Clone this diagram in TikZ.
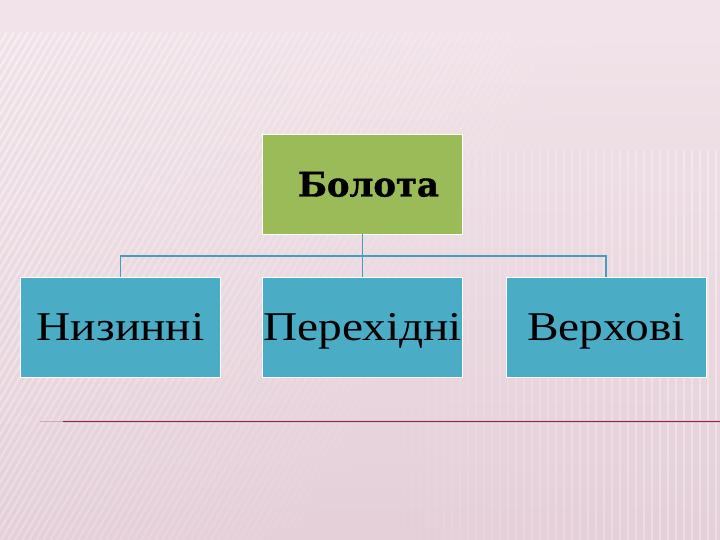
\documentclass[tikz,border=0pt]{standalone}
\usepackage{fontspec}
\setmainfont{Liberation Serif}[FakeStretch=1.16]
\newfontfamily\slab{DejaVu Serif}[FakeBold=1.2]
\begin{document}
\begin{tikzpicture}[x=1bp,y=-1bp,
  box/.style={draw=white, line width=0.6bp, inner sep=0pt, minimum width=200bp, minimum height=100bp, text=black, text depth=0pt},
  topbox/.style={box, fill=topgreen, text height=25bp, font=\slab\bfseries\fontsize{34}{40}\selectfont},
  subbox/.style={box, fill=subblue, text height=27.5bp, font=\fontsize{41}{46}\selectfont},
  link/.style={draw=linkblue, line width=1.6bp},
  stripe/.style={draw=white, line width=2.2bp}]
\definecolor{bgpink}{HTML}{F1E3E9}
\definecolor{bgdark}{HTML}{E2CBD5}
\definecolor{topgreen}{HTML}{9BBB59}
\definecolor{subblue}{HTML}{4BACC6}
\definecolor{linkblue}{HTML}{4A9BC0}
\definecolor{redline}{HTML}{8E2343}
\useasboundingbox (0,0) rectangle (720,540);
% background
\fill[bgpink] (0,0) rectangle (720,540);
\shade[bottom color=bgdark, top color=bgpink, opacity=0.8] (0,32) rectangle (720,540);
\begin{scope}
  \clip (0,32) rectangle (720,540);
  \foreach \i in {0,7,...,700} {
    \pgfmathsetmacro{\op}{max(0,0.45*(1-\i/650))}
    \draw[stripe, opacity=\op] (\i-300,540) -- (\i,32);
  }
\end{scope}
\begin{scope}
  \clip (380,150) rectangle (720,540);
  \foreach \i in {380,388,...,720} {
    \pgfmathsetmacro{\op}{0.35*(\i-380)/340}
    \draw[stripe, opacity=\op] (\i,150) -- (\i,540);
  }
\end{scope}
% red line
\draw[redline!25, line width=3bp] (63,421) -- (720,421);
\draw[redline, line width=0.9bp] (63,421) -- (720,421);
\draw[redline!40, line width=0.9bp] (40,421) -- (63,421);
% nodes
\node[topbox] (top) at (362.5,184) {\hspace{12bp}Болота};
\node[subbox] (low) at (120.5,327) {Низинні};
\node[subbox] (mid) at (362.5,327) {Перехідні};
\node[subbox] (high) at (606,327) {Верхові};
% connectors
\coordinate (j) at (362.5,256);
\draw[link] (top.south) -- (j);
\draw[link] (j) -| (low.north);
\draw[link] (j) -- (mid.north);
\draw[link] (j) -| (high.north);
\end{tikzpicture}
\end{document}
